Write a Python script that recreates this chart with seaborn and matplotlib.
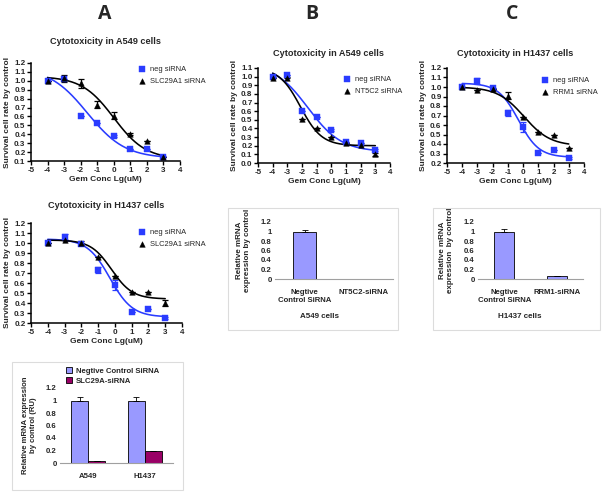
import numpy as np
import pandas as pd
import matplotlib
matplotlib.use("Agg")
import matplotlib.pyplot as plt
import seaborn as sns
from matplotlib.ticker import FormatStrFormatter, FuncFormatter
from matplotlib.patches import Rectangle

# ---- values ----
log_conc = [-4, -3, -2, -1, 0, 1, 2, 3]

a549_neg = [1.00, 1.02, 0.60, 0.53, 0.38, 0.24, 0.23, 0.15]
a549_neg_err = [0, 0, 0, 0, 0.01, 0, 0, 0.01]
a549_slc = [1.00, 1.03, 0.97, 0.73, 0.61, 0.40, 0.33, 0.15]
a549_slc_err = [0, 0.04, 0.05, 0.04, 0.04, 0.01, 0, 0]
a549_nt5c2 = [0.99, 0.99, 0.51, 0.40, 0.30, 0.23, 0.21, 0.10]
a549_nt5c2_err = [0, 0.01, 0, 0, 0, 0, 0, 0.02]

h1437_neg = [1.00, 1.06, 0.99, 0.73, 0.58, 0.31, 0.34, 0.25]
h1437_neg_err = [0, 0.03, 0, 0.03, 0.05, 0, 0, 0.01]
h1437_slc = [1.00, 1.03, 1.00, 0.86, 0.67, 0.51, 0.51, 0.40]
h1437_slc_err = [0, 0, 0.02, 0, 0, 0, 0, 0.03]
h1437_rrm1 = [1.00, 0.97, 0.98, 0.91, 0.68, 0.53, 0.49, 0.36]
h1437_rrm1_err = [0, 0, 0, 0.04, 0, 0, 0, 0]

# fitted curves as drawn: (bottom, top, logIC50, hill slope)
fit_a549_neg = (0.13, 1.15, -1.6, 0.38)
fit_a549_slc = (0.12, 1.05, 0.0, 0.45)
fit_a549_nt5c2 = (0.20, 1.10, -2.1, 0.60)
fit_h1437_neg = (0.26, 1.04, -0.3, 0.65)
fit_h1437_slc = (0.44, 1.03, -0.2, 0.70)
fit_h1437_rrm1 = (0.38, 1.00, 0.05, 0.50)

# qPCR knock-down bars
bar_groups = ["A549", "H1437"]
ctrl_vals = [1.0, 1.0]
ctrl_err = [0.05, 0.05]
slc_vals = [0.03, 0.19]
slc_err = [0.004, 0.01]

nt5c2_labels = ["Negtive\nControl SiRNA", "NT5C2-siRNA"]
nt5c2_vals = [1.0, 0.01]
nt5c2_err = [0.03, 0.0]

rrm1_labels = ["Negtive\nControl SiRNA", "RRM1-siRNA"]
rrm1_vals = [1.0, 0.07]
rrm1_err = [0.06, 0.0]

BLUE = "#2a3cff"
BAR1 = "#9999ff"
BAR2 = "#990066"

sns.set_theme(style="ticks")
plt.rcParams["font.family"] = ["Liberation Sans", "DejaVu Sans"]
plt.rcParams["font.weight"] = "bold"
plt.rcParams["axes.unicode_minus"] = False

W, H = 603, 495
fig = plt.figure(figsize=(W / 100, H / 100), dpi=100)


def rect(l, t, r, b):
    return [l / W, 1 - b / H, (r - l) / W, (b - t) / H]


def logistic(x, bottom, top, ic50, hill):
    return bottom + (top - bottom) / (1 + 10 ** ((x - ic50) * hill))


def dose_panel(box, title, title_xy, ylo, yhi, neg, neg_err, trt, trt_err,
               fit_neg, fit_trt, trt_label, leg_xy):
    ax = fig.add_axes(rect(*box))
    xs = np.linspace(-4, 3, 200)
    sns.lineplot(x=xs, y=logistic(xs, *fit_neg), color=BLUE, lw=1.15, ax=ax)
    sns.lineplot(x=xs, y=logistic(xs, *fit_trt), color="black", lw=1.15, ax=ax)
    ax.errorbar(log_conc, neg, yerr=neg_err, fmt="none", ecolor=BLUE,
                elinewidth=0.9, capsize=2, capthick=0.9)
    ax.errorbar(log_conc, trt, yerr=trt_err, fmt="none", ecolor="black",
                elinewidth=0.9, capsize=2, capthick=0.9)
    sns.scatterplot(x=log_conc, y=neg, marker="s", color=BLUE, edgecolor=BLUE,
                    s=14, ax=ax, label="neg siRNA", zorder=5)
    sns.scatterplot(x=log_conc, y=trt, marker="^", color="black",
                    edgecolor="black", s=16, ax=ax, label=trt_label, zorder=5)
    ax.set_xlim(-5, 4)
    ax.set_ylim(ylo, yhi)
    ax.set_xticks(range(-5, 5))
    ax.set_yticks(np.round(np.arange(ylo, yhi + 0.001, 0.1), 1))
    ax.yaxis.set_major_formatter(FormatStrFormatter("%.1f"))
    for s in ["top", "right"]:
        ax.spines[s].set_visible(False)
    for s in ["left", "bottom"]:
        ax.spines[s].set_linewidth(1.1)
        ax.spines[s].set_color("black")
    ax.tick_params(labelsize=5.8, length=3, width=1.0, pad=1, color="black")
    ax.set_xlabel("Gem Conc Lg(uM)", fontsize=6, fontweight="bold", labelpad=2)
    ax.set_ylabel("Survival cell rate by control", fontsize=6,
                  fontweight="bold", labelpad=2)
    ax.legend(loc="upper left", bbox_to_anchor=(leg_xy[0] / W, 1 - leg_xy[1] / H),
              bbox_transform=fig.transFigure, frameon=False,
              prop={"weight": "normal", "size": 5.4}, handletextpad=0.7,
              labelspacing=0.55, borderpad=0, borderaxespad=0, handlelength=0.8,
              markerscale=1.0)
    fig.text(title_xy[0] / W, 1 - title_xy[1] / H, title, ha="center",
             va="center", fontsize=6.6, fontweight="bold")
    return ax


def excel_box(l, t, r, b):
    fig.add_artist(Rectangle((l / W, 1 - b / H), (r - l) / W, (b - t) / H,
                             transform=fig.transFigure, fill=False,
                             edgecolor="#dcdcdc", lw=0.8))


def style_excel(ax):
    ax.set_ylim(0, 1.2)
    ax.set_yticks(np.arange(0, 1.21, 0.2))
    ax.yaxis.set_major_formatter(FuncFormatter(lambda v, p: f"{v:g}"))
    for s in ["top", "right", "left"]:
        ax.spines[s].set_visible(False)
    ax.spines["bottom"].set_color("#a0a0a0")
    ax.spines["bottom"].set_linewidth(0.8)
    ax.tick_params(axis="y", labelsize=5.6, length=0, pad=2.5)
    ax.tick_params(axis="x", labelsize=5.6, length=0, pad=7)
    ax.set_xlabel("")


# ---- panel letters ----
for letter, x in [("A", 105), ("B", 312), ("C", 512)]:
    fig.text(x / W, 1 - 14 / H, letter, ha="center", va="center",
             fontsize=14, fontweight="bold", family="Open Sans")

# ---- dose-response panels ----
dose_panel((31, 63, 180, 161), "Cytotoxicity in A549 cells", (105, 42), 0.1, 1.2,
           a549_neg, a549_neg_err, a549_slc, a549_slc_err,
           fit_a549_neg, fit_a549_slc, "SLC29A1 siRNA", (139, 66))
dose_panel((31, 223, 182, 323), "Cytotoxicity in H1437 cells", (106, 205), 0.2, 1.2,
           h1437_neg, h1437_neg_err, h1437_slc, h1437_slc_err,
           fit_h1437_neg, fit_h1437_slc, "SLC29A1 siRNA", (139, 229))
dose_panel((258, 68, 390, 163), "Cytotoxicity in A549 cells", (328, 54), 0.0, 1.1,
           a549_neg, a549_neg_err, a549_nt5c2, a549_nt5c2_err,
           fit_a549_neg, fit_a549_nt5c2, "NT5C2 siRNA", (344, 76))
dose_panel((447, 68, 584, 163), "Cytotoxicity in H1437 cells", (515, 54), 0.2, 1.2,
           h1437_neg, h1437_neg_err, h1437_rrm1, h1437_rrm1_err,
           fit_h1437_neg, fit_h1437_rrm1, "RRM1 siRNA", (542, 77))

# ---- bar panel A ----
excel_box(12, 362, 183, 490)
ax = fig.add_axes(rect(60, 388, 173, 463))
bars = pd.DataFrame({
    "group": bar_groups * 2,
    "value": ctrl_vals + slc_vals,
    "siRNA": ["Negtive Control SiRNA"] * 2 + ["SLC29A-siRNA"] * 2,
})
sns.barplot(data=bars, x="group", y="value", hue="siRNA", palette=[BAR1, BAR2],
            width=0.6, edgecolor="black", linewidth=0.6, errorbar=None,
            saturation=1, ax=ax)
offs = [-0.15, 0.15]
for k, (vals, errs) in enumerate([(ctrl_vals, ctrl_err), (slc_vals, slc_err)]):
    xpos = np.arange(len(vals)) + offs[k]
    ax.errorbar(xpos, vals, yerr=[np.zeros(len(errs)), errs], fmt="none",
                ecolor="black", elinewidth=0.6, capsize=2, capthick=0.6)
style_excel(ax)
ax.set_xlim(-0.5, 1.5)
ax.set_ylabel("Relative mRNA expression\nby control (RU)", fontsize=5.6,
              fontweight="bold", labelpad=6)
ax.legend(loc="upper left", bbox_to_anchor=(66 / W, 1 - 367 / H),
          bbox_transform=fig.transFigure, frameon=False,
          prop={"weight": "bold", "size": 5.6}, handlelength=0.8,
          handleheight=0.8, handletextpad=0.5, labelspacing=0.3, borderpad=0,
          borderaxespad=0)

# ---- bar panel B ----
excel_box(228, 208, 398, 330)
ax = fig.add_axes(rect(275, 222, 393, 279))
sns.barplot(x=nt5c2_labels, y=nt5c2_vals, color=BAR1, width=0.39,
            edgecolor="black", linewidth=0.6, errorbar=None, saturation=1, ax=ax)
ax.errorbar(range(2), nt5c2_vals, yerr=[np.zeros(2), nt5c2_err], fmt="none",
            ecolor="black", elinewidth=0.6, capsize=2, capthick=0.6)
style_excel(ax)
ax.set_xlim(-0.5, 1.5)
ax.set_ylabel("Relative mRNA\nexpression by control", fontsize=5.8,
              fontweight="bold", labelpad=7)
fig.text(320 / W, 1 - 316 / H, "A549 cells", ha="center", va="center",
         fontsize=5.8, fontweight="bold")

# ---- bar panel C ----
excel_box(433, 208, 600, 330)
ax = fig.add_axes(rect(478, 222, 583, 279))
sns.barplot(x=rrm1_labels, y=rrm1_vals, color=BAR1, width=0.38,
            edgecolor="black", linewidth=0.6, errorbar=None, saturation=1, ax=ax)
ax.errorbar(range(2), rrm1_vals, yerr=[np.zeros(2), rrm1_err], fmt="none",
            ecolor="black", elinewidth=0.6, capsize=2, capthick=0.6)
style_excel(ax)
ax.set_xlim(-0.5, 1.5)
ax.set_ylabel("Relative mRNA\nexpression  by control", fontsize=5.8,
              fontweight="bold", labelpad=7)
fig.text(520 / W, 1 - 316 / H, "H1437 cells", ha="center", va="center",
         fontsize=5.8, fontweight="bold")

fig.savefig("out.png", dpi=100)
